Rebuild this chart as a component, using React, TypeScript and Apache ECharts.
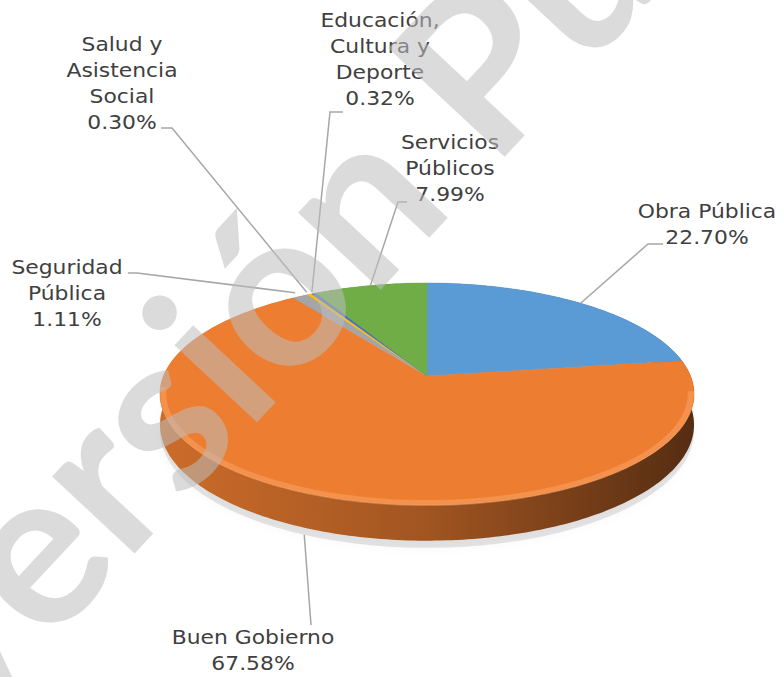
import React, { useEffect, useRef } from 'react';
import * as echarts from 'echarts';

// ---- data ----
const categories = [
  'Obra Pública',
  'Buen Gobierno',
  'Seguridad\nPública',
  'Salud y\nAsistencia\nSocial',
  'Educación,\nCultura y\nDeporte',
  'Servicios\nPúblicos',
];
const values = [22.7, 67.58, 1.11, 0.3, 0.32, 7.99];
const colors = ['#5b9bd5', '#ed7d31', '#a5a5a5', '#ffc000', '#4472c4', '#70ad47'];

// ---- layout ----
const CX = 427;
const CY = 376;
const RA = 263.5;
const RB = 108;
const K = 0.162;
const DEPTH = 30;
const labelFirstLine = [[707, 212], [253, 638], [67, 268], [122, 45], [380, 21], [450, 143]];
const leaderEnds = [
  [[648, 244], [663, 244]],
  [[311, 625]],
  [[137, 273], [128, 273]],
  [[172, 128], [161, 128]],
  [[330, 112], [343, 112]],
  [[398, 202], [407, 202]],
];
const leaderRadius = [1, 1, 1.05, 1.03, 1.02, 1];
const LABEL_FONT = '19px "DejaVu Sans"';
const LINE_H = 26;

function proj(thetaDeg: number, r = 1, depth = 0): number[] {
  const t = (thetaDeg * Math.PI) / 180;
  const u = r * Math.sin(t);
  const v = -r * Math.cos(t);
  const w = 1 - K * v;
  return [CX + (RA * u) / w, CY + (RB * v + depth) / w];
}

function arc(a0: number, a1: number, r: number, depth: number): number[][] {
  const pts: number[][] = [];
  const n = Math.max(2, Math.ceil(Math.abs(a1 - a0) / 1));
  for (let i = 0; i <= n; i++) pts.push(proj(a0 + ((a1 - a0) * i) / n, r, depth));
  return pts;
}

function shade(hex: string, f: number): string {
  const n = parseInt(hex.slice(1), 16);
  const r = Math.round(((n >> 16) & 255) * f);
  const g = Math.round(((n >> 8) & 255) * f);
  const b = Math.round((n & 255) * f);
  return `rgb(${r},${g},${b})`;
}

export default function App() {
  const ref = useRef<HTMLDivElement>(null);
  useEffect(() => {
    if (!ref.current) return;
    const chart = echarts.init(ref.current, null, { renderer: 'svg' });
    const total = values.reduce((a, b) => a + b, 0);
    const angles: number[][] = [];
    let acc = 0;
    values.forEach((v) => {
      const a0 = (acc / total) * 360;
      acc += v;
      angles.push([a0, (acc / total) * 360]);
    });
    const leftX = CX - RA / Math.sqrt(1 - K * K);
    const rightX = CX + RA / Math.sqrt(1 - K * K);

    const graphics: any[] = [];
    // soft shadow under the pie
    graphics.push({
      type: 'polygon',
      z: 0,
      silent: true,
      shape: { points: arc(0, 360, 1.0, DEPTH + 6) },
      style: { fill: 'rgba(0,0,0,0.10)', shadowBlur: 10, shadowColor: 'rgba(0,0,0,0.3)' },
    });
    // front bevel highlight on top face
    graphics.push({
      type: 'polyline',
      z: 4,
      silent: true,
      shape: { points: arc(98, 264, 0.988, 0) },
      style: { stroke: 'rgba(255,178,120,0.38)', lineWidth: 6, fill: 'none' },
    });
    // labels + leader lines
    values.forEach((v, i) => {
      const [a0, a1] = angles[i];
      const mid = (a0 + a1) / 2;
      const front = mid > 100 && mid < 260;
      const start = proj(mid, leaderRadius[i], front ? DEPTH + 6 : 0);
      graphics.push({
        type: 'polyline',
        z: 5,
        silent: true,
        shape: { points: [start, ...leaderEnds[i]] },
        style: { stroke: '#a6a6a6', lineWidth: 1.5, fill: 'none' },
      });
      const [lx, ly] = labelFirstLine[i];
      graphics.push({
        type: 'text',
        z: 6,
        x: lx,
        y: ly - LINE_H / 2,
        scaleX: 1.15,
        silent: true,
        style: {
          text: categories[i] + '\n' + v.toFixed(2) + '%',
          x: 0,
          y: 0,
          font: LABEL_FONT,
          fill: '#404040',
          align: 'center',
          textAlign: 'center',
          verticalAlign: 'top',
          textVerticalAlign: 'top',
          lineHeight: LINE_H,
        },
      });
    });
    // watermark
    const rot = (47 * Math.PI) / 180;
    graphics.push({
      type: 'text',
      z: 100,
      silent: true,
      x: -109,
      y: 690,
      rotation: rot,
      style: {
        text: 'Versión Pública',
        x: 0,
        y: 0,
        font: 'bold 220px Lato',
        fill: 'rgba(190,190,190,0.55)',
        align: 'left',
        textAlign: 'left',
        verticalAlign: 'middle',
        textVerticalAlign: 'middle',
      },
    });

    chart.setOption({
      animation: false,
      backgroundColor: '#ffffff',
      series: [
        {
          type: 'custom',
          coordinateSystem: 'none',
          z: 2,
          silent: true,
          data: values.map((v) => [v]),
          renderItem: (params: any) => {
            const i = params.dataIndex;
            const [a0, a1] = angles[i];
            const top = arc(a0, a1, 1, 0);
            const bot = arc(a0, a1, 1, DEPTH).reverse();
            const c = colors[i];
            return {
              type: 'polygon',
              shape: { points: top.concat(bot) },
              style: {
                fill: {
                  type: 'linear',
                  x: leftX,
                  y: 0,
                  x2: rightX,
                  y2: 0,
                  global: true,
                  colorStops: [
                    { offset: 0, color: shade(c, 0.86) },
                    { offset: 0.5, color: shade(c, 0.68) },
                    { offset: 1, color: shade(c, 0.36) },
                  ],
                },
              },
            };
          },
        },
        {
          type: 'custom',
          coordinateSystem: 'none',
          z: 3,
          silent: true,
          data: values.map((v) => [v]),
          renderItem: (params: any) => {
            const i = params.dataIndex;
            const [a0, a1] = angles[i];
            const pts = [[CX, CY], ...arc(a0, a1, 1, 0)];
            return {
              type: 'polygon',
              shape: { points: pts },
              style: { fill: colors[i], stroke: colors[i], lineWidth: 0.5 },
            };
          },
        },
      ],
      graphic: { elements: graphics },
    });
    return () => chart.dispose();
  }, []);
  return (
    <div
      ref={ref}
      style={{ position: 'absolute', left: 0, top: 0, width: 781, height: 677, background: '#fff' }}
    />
  );
}
